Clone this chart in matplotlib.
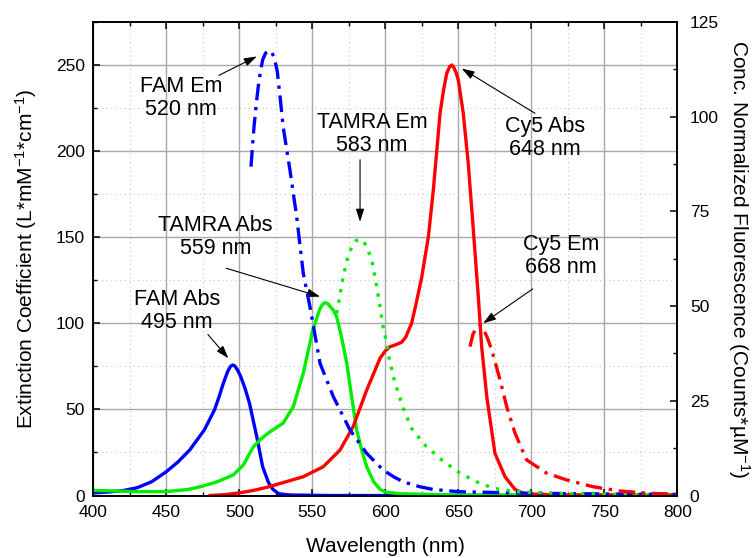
import matplotlib
matplotlib.use("Agg")
import matplotlib.pyplot as plt
from matplotlib.ticker import MultipleLocator

plt.rcParams['font.family'] = ['Liberation Sans', 'DejaVu Sans']
plt.rcParams['mathtext.fontset'] = 'custom'
plt.rcParams['mathtext.rm'] = 'Liberation Sans'
plt.rcParams['mathtext.it'] = 'Liberation Sans'
plt.rcParams['mathtext.default'] = 'regular'

# ---- data ----
fam_abs_x = [400, 410, 420, 430, 440, 450, 458, 466, 476, 483, 486, 489, 492, 494, 495.5, 497, 499, 501, 504, 507, 512, 516, 520, 523, 527, 535, 560, 600, 700, 800]
fam_abs_y = [1.5, 2.0, 2.8, 4.5, 8.0, 13.8, 19.5, 26.4, 38.0, 49.7, 57.0, 65.0, 72.0, 75.0, 75.8, 75.2, 72.5, 69.0, 62.0, 53.5, 34.0, 16.7, 7.5, 3.6, 1.0, 0.3, 0.0, 0.0, 0.0, 0.0]

tamra_abs_x = [400, 430, 450, 465, 475, 485, 496, 503, 509.6, 515, 521, 530, 537, 543.8, 550.3, 555, 557, 558.7, 560.5, 562, 564.5, 566.7, 570, 573.6, 577, 580.4, 584, 587.3, 592, 596.4, 600, 610, 650, 800]
tamra_abs_y = [3.0, 2.2, 2.3, 3.5, 5.5, 8.0, 12.0, 18.0, 28.3, 33.0, 37.0, 42.0, 51.6, 71.0, 96.0, 108.0, 111.0, 112.0, 111.5, 110.0, 107.5, 103.8, 92.0, 76.8, 57.0, 38.0, 26.0, 16.7, 8.0, 3.6, 2.0, 1.0, 0.3, 0.3]

cy5_abs_x = [480, 490, 500, 510, 520, 530, 543.8, 557.5, 569, 578, 587.3, 596.4, 600, 603.2, 607, 611.2, 614, 618, 621, 625, 629.5, 632.9, 637.5, 640, 642.1, 644, 645.5, 647, 648.5, 650, 653.4, 656.8, 660.3, 663.7, 666, 669.5, 675.1, 682, 688.8, 695, 720, 800]
cy5_abs_y = [0.0, 0.5, 1.5, 3.0, 5.0, 7.5, 10.9, 16.7, 26.4, 40.0, 61.3, 79.7, 84.0, 86.4, 87.5, 89.0, 92.0, 100.0, 111.0, 127.0, 150.3, 177.4, 222.0, 236.0, 245.2, 249.0, 250.0, 248.5, 245.5, 241.3, 222.0, 193.0, 154.2, 115.5, 86.4, 57.4, 24.5, 10.9, 3.6, 1.0, 0.3, 0.3]

fam_em_x = [508, 509, 510, 511.5, 513, 514.5, 516, 518, 520, 522, 524, 526, 528, 530, 534.7, 539.3, 543.8, 548.4, 555.3, 564.4, 575.8, 587.3, 598.6, 605.5, 612.3, 623.8, 632.7, 650, 700, 750, 800]
fam_em_y = [86.8, 92.0, 97.0, 103.0, 108.0, 112.0, 115.0, 116.8, 117.4, 117.2, 115.5, 112.0, 105.0, 97.4, 85.9, 73.6, 58.7, 49.8, 34.9, 26.1, 17.3, 11.1, 6.7, 5.0, 3.6, 2.3, 1.6, 1.0, 0.6, 0.4, 0.3]

tamra_em_x = [566.7, 571.2, 574, 577, 580, 583.8, 587, 590.7, 593.5, 596.4, 598.2, 600.5, 602.8, 605.5, 608.9, 612.8, 618, 627.2, 638.6, 651.2, 662.6, 674, 690, 720, 760, 800]
tamra_em_y = [48.1, 57.8, 62.5, 65.7, 67.3, 67.6, 66.0, 62.2, 56.5, 49.8, 45.0, 41.0, 35.8, 31.4, 27.0, 22.6, 17.7, 13.3, 9.4, 5.9, 3.6, 1.9, 1.0, 0.5, 0.3, 0.2]

cy5_em_x = [658, 660, 662.6, 665, 667.1, 670, 672.9, 678.6, 683.2, 688.9, 696.8, 710.5, 724.2, 742.5, 760, 780, 800]
cy5_em_y = [39.3, 42.5, 44.6, 45.0, 44.1, 41.5, 38.4, 30.5, 23.4, 16.4, 9.4, 5.9, 4.1, 2.3, 1.2, 0.6, 0.3]

x_ticks = [400, 450, 500, 550, 600, 650, 700, 750, 800]
left_ticks = [0, 50, 100, 150, 200, 250]
right_ticks = [0, 25, 50, 75, 100, 125]

# ---- figure ----
fig = plt.figure(figsize=(7.54, 5.58), dpi=100)
ax = fig.add_axes([93.3/754, 62.5/558, 584/754, 473.5/558])
ax2 = ax.twinx()

BLUE = '#0000ff'
GREEN = '#00ee00'
RED = '#ff0000'
LW = 2.4
dashdot = (0, (5, 2, 1, 2))

ax.plot(fam_abs_x, fam_abs_y, color=BLUE, lw=LW, zorder=3, solid_joinstyle='round')
ax.plot(tamra_abs_x, tamra_abs_y, color=GREEN, lw=LW, zorder=3, solid_joinstyle='round')
ax.plot(cy5_abs_x, cy5_abs_y, color=RED, lw=LW, zorder=3, solid_joinstyle='round')

ax2.plot(fam_em_x, fam_em_y, color=BLUE, lw=LW, linestyle=dashdot)
ax2.plot(tamra_em_x, tamra_em_y, color=GREEN, lw=LW, linestyle=(0, (1, 2.2)))
ax2.plot(cy5_em_x, cy5_em_y, color=RED, lw=LW, linestyle=dashdot)

ax.set_xlim(400, 800)
ax.set_ylim(0, 275)
ax2.set_ylim(0, 125)

ax.set_xticks(x_ticks)
ax.set_xticklabels([str(t) for t in x_ticks])
ax.set_yticks(left_ticks)
ax.set_yticklabels([str(t) for t in left_ticks])
ax2.set_yticks(right_ticks)
ax2.set_yticklabels([str(t) for t in right_ticks])
ax.xaxis.set_minor_locator(MultipleLocator(25))
ax.yaxis.set_minor_locator(MultipleLocator(25))
ax2.yaxis.set_minor_locator(MultipleLocator(12.5))

ax.grid(which='major', color='#a8a8a8', lw=1.0, linestyle='-', zorder=0)
ax.grid(which='minor', color='#c8c8c8', lw=0.8, linestyle=(0, (1, 3)), zorder=0)
ax.set_axisbelow(True)

ax.tick_params(axis='x', which='both', direction='in', top=True, bottom=True, labelsize=12.5, pad=7)
ax.tick_params(axis='y', which='both', direction='in', left=True, right=False, labelsize=12.5, pad=6)
ax2.tick_params(axis='y', which='both', direction='in', labelsize=12.5, pad=9)
for a in (ax, ax2):
    a.tick_params(which='major', length=5, width=1.1, color='black')
    a.tick_params(which='minor', length=3, width=1.0, color='black')
    for s in a.spines.values():
        s.set_linewidth(1.2)
        s.set_color('black')

ax.set_xlabel('Wavelength (nm)', fontsize=15, labelpad=12)
ax.set_ylabel('Extinction Coefficient (L*mM$^{-1}$*cm$^{-1}$)', fontsize=15, labelpad=12)
ax2.set_ylabel('Conc. Normalized Fluorescence (Counts*µM$^{-1}$)', fontsize=15, rotation=270, labelpad=24)

# ---- annotations (left-axis data coordinates) ----
FS = 15.5
def note(text, tx, ty, tail, head):
    ax.text(tx, ty, text, ha='center', va='center', fontsize=FS, linespacing=1.15, zorder=5)
    ax.annotate('', xy=head, xytext=tail,
                arrowprops=dict(arrowstyle='-|>,head_length=0.55,head_width=0.18',
                                color='black', lw=0.8, mutation_scale=14, shrinkA=0, shrinkB=0),
                zorder=5)

note('FAM Em\n520 nm', 460, 231, (486, 244), (512, 255))
note('TAMRA Em\n583 nm', 591, 210, (582.7, 195), (582.7, 159))
note('TAMRA Abs\n559 nm', 483.5, 150, (491, 132), (555.3, 115.5))
note('FAM Abs\n495 nm', 457.4, 107, (478.5, 93.5), (492.5, 79.7))
note('Cy5 Abs\n648 nm', 709.4, 207.6, (702.5, 222), (652.3, 248))
note('Cy5 Em\n668 nm', 720.4, 139, (701, 120), (667, 100))

fig.savefig('out.png', dpi=100)
